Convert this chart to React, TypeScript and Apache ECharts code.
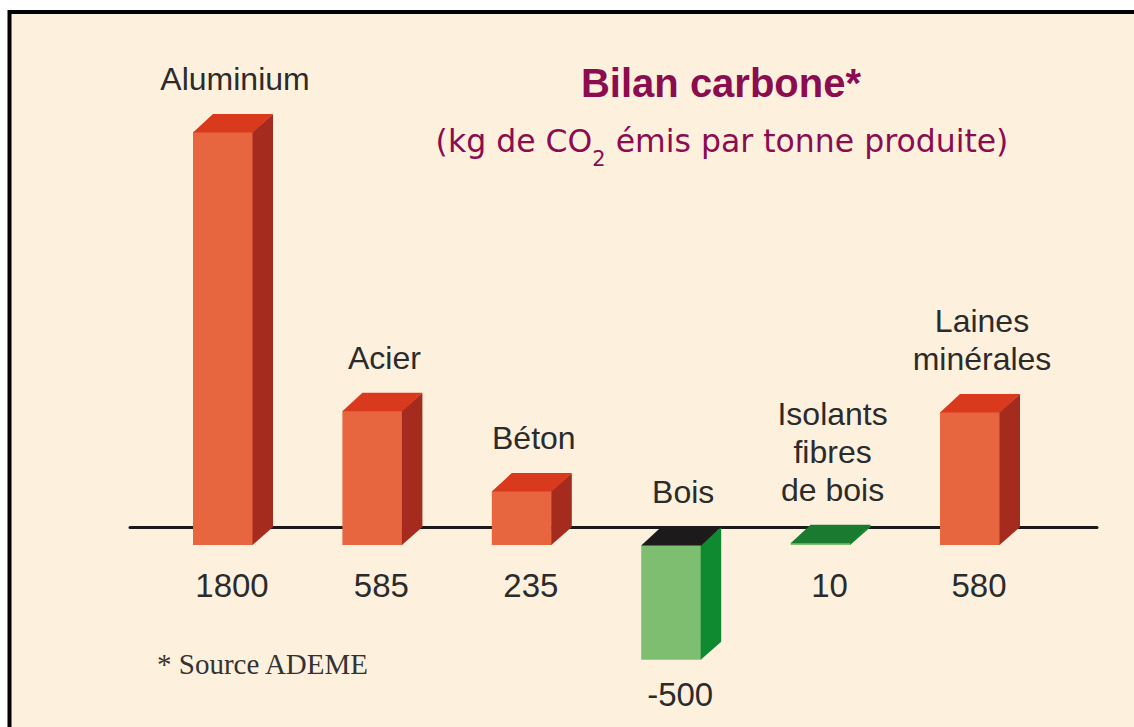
import React, { useEffect, useRef } from "react";
import * as echarts from "echarts";

// ---- data ----
const categories = ["Aluminium", "Acier", "Béton", "Bois", "Isolants\nfibres\nde bois", "Laines\nminérales"];
const values = [1800, 585, 235, -500, 10, 580];
const woodBased = [false, false, false, true, true, false];

const TITLE = "Bilan carbone*";
const SUB_BEFORE = "(kg de CO";
const SUB_INDEX = "2";
const SUB_AFTER = " émis par tonne produite)";
const FOOTNOTE = "* Source ADEME";

// ---- style ----
const BG = "#fdf1de";
const TITLE_COLOR = "#8b0d50";
const TEXT_COLOR = "#2b2b2b";
const MINERAL = { front: "#e8663f", side: "#a52b1e", top: "#d9391c" };
const WOOD = { front: "#7dbe70", side: "#108a30", topNeg: "#1c1a1a", topPos: "#1a7a30" };
const BAR_W = 60;
const DX = 20;
const DY = 18;

export default function App() {
  const ref = useRef<HTMLDivElement>(null);

  useEffect(() => {
    if (!ref.current) return;
    const chart = echarts.init(ref.current, undefined, { renderer: "svg" });

    const option: any = {
      animation: false,
      backgroundColor: "#ffffff",
      grid: { left: 130, right: 37, top: 68.1, bottom: 16.4, containLabel: false },
      xAxis: {
        type: "value",
        min: -0.6225,
        max: 5.85,
        z: 5,
        axisLine: { show: true, onZero: true, lineStyle: { color: "#1a1a1a", width: 3 } },
        axisTick: { show: false },
        axisLabel: { show: false },
        splitLine: { show: false },
      },
      yAxis: {
        type: "value",
        min: -800,
        max: 2000,
        show: false,
        splitLine: { show: false },
      },
      graphic: [
        {
          type: "rect",
          z: -10,
          silent: true,
          shape: { x: 9.5, y: 12, width: 1300, height: 900 },
          style: { fill: BG, stroke: "#000000", lineWidth: 4 },
        },
        {
          type: "text",
          z: 20,
          x: 721,
          y: 83,
          style: {
            text: TITLE,
            fill: TITLE_COLOR,
            font: 'bold 40px "Liberation Sans", Arial, sans-serif',
            align: "center",
            verticalAlign: "middle",
          },
        },
        {
          type: "text",
          z: 20,
          x: 722,
          y: 141,
          style: {
            text: `{a|${SUB_BEFORE}}{s|${SUB_INDEX}}{a|${SUB_AFTER}}`,
            align: "center",
            verticalAlign: "middle",
            rich: {
              a: {
                fill: TITLE_COLOR,
                fontFamily: '"DejaVu Sans", sans-serif',
                fontSize: 31.5,
                lineHeight: 56,
                verticalAlign: "middle",
              },
              s: {
                fill: TITLE_COLOR,
                fontFamily: '"DejaVu Sans", sans-serif',
                fontSize: 21,
                lineHeight: 56,
                verticalAlign: "bottom",
              },
            },
          },
        },
        {
          type: "text",
          z: 20,
          x: 157,
          y: 663.5,
          style: {
            text: FOOTNOTE,
            fill: "#333333",
            font: '29px "Liberation Serif", "Times New Roman", serif',
            align: "left",
            verticalAlign: "middle",
          },
        },
      ],
      series: [
        {
          type: "custom",
          z: 10,
          data: values.map((v, i) => [i, v]),
          encode: { x: 0, y: 1 },
          renderItem: (params: any, api: any) => {
            const i = api.value(0);
            const v = api.value(1);
            const p0 = api.coord([i, 0]);
            const pv = api.coord([i, v]);
            const cx = p0[0];
            const yTop = Math.min(p0[1], pv[1]);
            const yBot = Math.max(p0[1], pv[1]);
            const hw = BAR_W / 2;
            const wood = woodBased[params.dataIndex];
            const front = wood ? WOOD.front : MINERAL.front;
            const side = wood ? WOOD.side : MINERAL.side;
            const top = wood ? (v < 0 ? WOOD.topNeg : WOOD.topPos) : MINERAL.top;
            return {
              type: "group",
              children: [
                {
                  type: "rect",
                  shape: { x: cx - hw, y: yTop + DY, width: BAR_W, height: yBot - yTop },
                  style: { fill: front },
                },
                {
                  type: "polygon",
                  shape: {
                    points: [
                      [cx + hw - 0.5, yTop + DY],
                      [cx + hw + DX, yTop],
                      [cx + hw + DX, yBot],
                      [cx + hw - 0.5, yBot + DY],
                    ],
                  },
                  style: { fill: side },
                },
                {
                  type: "polygon",
                  shape: {
                    points: [
                      [cx - hw, yTop + DY + 0.5],
                      [cx - hw + DX, yTop],
                      [cx + hw + DX, yTop],
                      [cx + hw, yTop + DY + 0.5],
                    ],
                  },
                  style: { fill: top },
                },
                {
                  type: "text",
                  x: cx + 12,
                  y: yTop - 16,
                  style: {
                    text: categories[params.dataIndex],
                    fill: TEXT_COLOR,
                    fontFamily: '"Liberation Sans", Arial, sans-serif',
                    fontSize: 32,
                    lineHeight: 38,
                    align: "center",
                    verticalAlign: "bottom",
                  },
                },
                {
                  type: "text",
                  x: cx + 9,
                  y: yBot + DY + (v >= 0 ? 40 : 35),
                  style: {
                    text: String(v),
                    fill: TEXT_COLOR,
                    fontFamily: '"Liberation Sans", Arial, sans-serif',
                    fontSize: 33,
                    align: "center",
                    verticalAlign: "middle",
                  },
                },
              ],
            };
          },
        },
      ],
    };

    chart.setOption(option);
    return () => chart.dispose();
  }, []);

  return (
    <div
      ref={ref}
      style={{ position: "fixed", left: 0, top: 0, width: 1134, height: 727, background: "#ffffff" }}
    />
  );
}
